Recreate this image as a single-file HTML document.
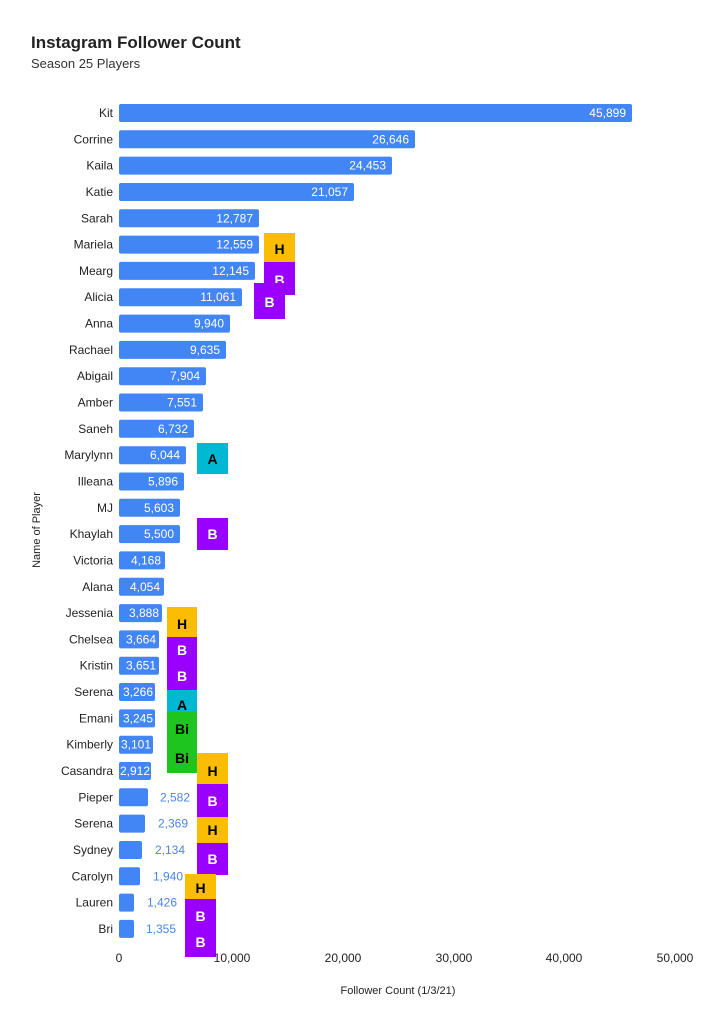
<!DOCTYPE html>
<html><head><meta charset="utf-8"><style>
html,body{margin:0;padding:0;background:#fff;}
svg{display:block;font-family:"Liberation Sans",Arial,sans-serif;}
.n{font-size:12px;fill:#222;text-anchor:end;}
.v{font-size:12px;fill:#fff;text-anchor:end;}
.o{font-size:12px;fill:#4a86e8;text-anchor:start;}
.b{fill:#4285f4;}
.t{font-size:14px;font-weight:bold;text-anchor:middle;}
</style></head><body>
<svg width="712" height="1023" viewBox="0 0 712 1023" xmlns="http://www.w3.org/2000/svg">
<rect width="712" height="1023" fill="#fff"/>
<text x="31" y="48" font-size="17" font-weight="bold" fill="#222">Instagram Follower Count</text>
<text x="31" y="68" font-size="13" fill="#333">Season 25 Players</text>
<g>
<rect class="b" x="119" y="104" width="513" height="18" rx="2"/><text class="n" x="113" y="117">Kit</text><text class="v" x="626" y="117">45,899</text>
<rect class="b" x="119" y="130.3" width="296" height="18" rx="2"/><text class="n" x="113" y="143.3">Corrine</text><text class="v" x="409" y="143.3">26,646</text>
<rect class="b" x="119" y="156.6" width="273" height="18" rx="2"/><text class="n" x="113" y="169.6">Kaila</text><text class="v" x="386" y="169.6">24,453</text>
<rect class="b" x="119" y="183" width="235" height="18" rx="2"/><text class="n" x="113" y="196">Katie</text><text class="v" x="348" y="196">21,057</text>
<rect class="b" x="119" y="209.3" width="140" height="18" rx="2"/><text class="n" x="113" y="222.3">Sarah</text><text class="v" x="253" y="222.3">12,787</text>
<rect class="b" x="119" y="235.6" width="140" height="18" rx="2"/><text class="n" x="113" y="248.6">Mariela</text><text class="v" x="253" y="248.6">12,559</text>
<rect class="b" x="119" y="261.9" width="136" height="18" rx="2"/><text class="n" x="113" y="274.9">Mearg</text><text class="v" x="249" y="274.9">12,145</text>
<rect class="b" x="119" y="288.2" width="123" height="18" rx="2"/><text class="n" x="113" y="301.2">Alicia</text><text class="v" x="236" y="301.2">11,061</text>
<rect class="b" x="119" y="314.6" width="111" height="18" rx="2"/><text class="n" x="113" y="327.6">Anna</text><text class="v" x="224" y="327.6">9,940</text>
<rect class="b" x="119" y="340.9" width="107" height="18" rx="2"/><text class="n" x="113" y="353.9">Rachael</text><text class="v" x="220" y="353.9">9,635</text>
<rect class="b" x="119" y="367.2" width="87" height="18" rx="2"/><text class="n" x="113" y="380.2">Abigail</text><text class="v" x="200" y="380.2">7,904</text>
<rect class="b" x="119" y="393.5" width="84" height="18" rx="2"/><text class="n" x="113" y="406.5">Amber</text><text class="v" x="197" y="406.5">7,551</text>
<rect class="b" x="119" y="419.8" width="75" height="18" rx="2"/><text class="n" x="113" y="432.8">Saneh</text><text class="v" x="188" y="432.8">6,732</text>
<rect class="b" x="119" y="446.2" width="67" height="18" rx="2"/><text class="n" x="113" y="459.2">Marylynn</text><text class="v" x="180" y="459.2">6,044</text>
<rect class="b" x="119" y="472.5" width="65" height="18" rx="2"/><text class="n" x="113" y="485.5">Illeana</text><text class="v" x="178" y="485.5">5,896</text>
<rect class="b" x="119" y="498.8" width="61" height="18" rx="2"/><text class="n" x="113" y="511.8">MJ</text><text class="v" x="174" y="511.8">5,603</text>
<rect class="b" x="119" y="525.1" width="61" height="18" rx="2"/><text class="n" x="113" y="538.1">Khaylah</text><text class="v" x="174" y="538.1">5,500</text>
<rect class="b" x="119" y="551.4" width="46" height="18" rx="2"/><text class="n" x="113" y="564.4">Victoria</text><text class="v" x="161" y="564.4">4,168</text>
<rect class="b" x="119" y="577.8" width="45" height="18" rx="2"/><text class="n" x="113" y="590.8">Alana</text><text class="v" x="160" y="590.8">4,054</text>
<rect class="b" x="119" y="604.1" width="43" height="18" rx="2"/><text class="n" x="113" y="617.1">Jessenia</text><text class="v" x="159" y="617.1">3,888</text>
<rect class="b" x="119" y="630.4" width="40" height="18" rx="2"/><text class="n" x="113" y="643.4">Chelsea</text><text class="v" x="156" y="643.4">3,664</text>
<rect class="b" x="119" y="656.7" width="40" height="18" rx="2"/><text class="n" x="113" y="669.7">Kristin</text><text class="v" x="156" y="669.7">3,651</text>
<rect class="b" x="119" y="683" width="36" height="18" rx="2"/><text class="n" x="113" y="696">Serena</text><text class="v" x="153" y="696">3,266</text>
<rect class="b" x="119" y="709.4" width="36" height="18" rx="2"/><text class="n" x="113" y="722.4">Emani</text><text class="v" x="153" y="722.4">3,245</text>
<rect class="b" x="119" y="735.7" width="34" height="18" rx="2"/><text class="n" x="113" y="748.7">Kimberly</text><text class="v" x="151" y="748.7">3,101</text>
<rect class="b" x="119" y="762" width="32" height="18" rx="2"/><text class="n" x="113" y="775">Casandra</text><text class="v" x="150" y="775">2,912</text>
<rect class="b" x="119" y="788.3" width="29" height="18" rx="2"/><text class="n" x="113" y="801.3">Pieper</text><text class="o" x="160" y="801.3">2,582</text>
<rect class="b" x="119" y="814.6" width="26" height="18" rx="2"/><text class="n" x="113" y="827.6">Serena</text><text class="o" x="158" y="827.6">2,369</text>
<rect class="b" x="119" y="841" width="23" height="18" rx="2"/><text class="n" x="113" y="854">Sydney</text><text class="o" x="155" y="854">2,134</text>
<rect class="b" x="119" y="867.3" width="21" height="18" rx="2"/><text class="n" x="113" y="880.3">Carolyn</text><text class="o" x="153" y="880.3">1,940</text>
<rect class="b" x="119" y="893.6" width="15" height="18" rx="2"/><text class="n" x="113" y="906.6">Lauren</text><text class="o" x="147" y="906.6">1,426</text>
<rect class="b" x="119" y="919.9" width="15" height="18" rx="2"/><text class="n" x="113" y="932.9">Bri</text><text class="o" x="146" y="932.9">1,355</text>
</g>
<!-- overlay boxes -->
<g>
<rect x="264" y="233" width="31" height="29" fill="#fbbc04"/><text class="t" x="279.5" y="254" fill="#000">H</text>
<rect x="264" y="262" width="31" height="33" fill="#9900ff"/><text class="t" x="279.5" y="285" fill="#fff">B</text>
<rect x="254" y="283" width="31" height="36" fill="#9900ff"/><text class="t" x="269.5" y="307" fill="#fff">B</text>
<rect x="197" y="443" width="31" height="31" fill="#00b8d4"/><text class="t" x="212.5" y="464" fill="#000">A</text>
<rect x="197" y="518" width="31" height="32" fill="#9900ff"/><text class="t" x="212.5" y="539" fill="#fff">B</text>
<rect x="167" y="607" width="30" height="30" fill="#fbbc04"/><text class="t" x="182" y="629" fill="#000">H</text>
<rect x="167" y="637" width="30" height="53" fill="#9900ff"/><text class="t" x="182" y="655" fill="#fff">B</text><text class="t" x="182" y="681" fill="#fff">B</text>
<rect x="167" y="690" width="30" height="22" fill="#00b8d4"/><text class="t" x="182" y="710" fill="#000">A</text>
<rect x="167" y="712" width="30" height="61" fill="#1ec51e"/><text class="t" x="182" y="734" fill="#000">Bi</text><text class="t" x="182" y="763" fill="#000">Bi</text>
<rect x="197" y="753" width="31" height="31" fill="#fbbc04"/><text class="t" x="212.5" y="776" fill="#000">H</text>
<rect x="197" y="784" width="31" height="33" fill="#9900ff"/><text class="t" x="212.5" y="806" fill="#fff">B</text>
<rect x="197" y="817" width="31" height="26" fill="#fbbc04"/><text class="t" x="212.5" y="835" fill="#000">H</text>
<rect x="197" y="843" width="31" height="32" fill="#9900ff"/><text class="t" x="212.5" y="864" fill="#fff">B</text>
<rect x="185" y="874" width="31" height="25" fill="#fbbc04"/><text class="t" x="200.5" y="893" fill="#000">H</text>
<rect x="185" y="899" width="31" height="58" fill="#9900ff"/><text class="t" x="200.5" y="921" fill="#fff">B</text><text class="t" x="200.5" y="947" fill="#fff">B</text>
</g>
<g font-size="12" fill="#222" text-anchor="middle">
<text x="119" y="962">0</text>
<text x="232" y="962">10,000</text>
<text x="343" y="962">20,000</text>
<text x="454" y="962">30,000</text>
<text x="564" y="962">40,000</text>
<text x="675" y="962">50,000</text>
<text x="398" y="994" font-size="11">Follower Count (1/3/21)</text>
<text transform="translate(40,530) rotate(-90)" font-size="11">Name of Player</text>
</g>
</svg>
</body></html>
